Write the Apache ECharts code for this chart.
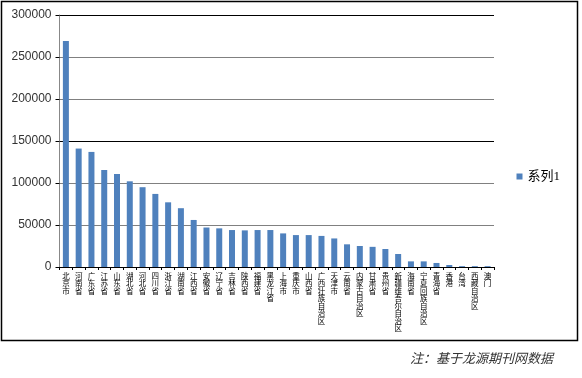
<!DOCTYPE html>
<html><head><meta charset="utf-8">
<script src="https://cdn.jsdelivr.net/npm/echarts@6/dist/echarts.min.js"></script>
<style>html,body{margin:0;padding:0;background:#fff}#c{width:582px;height:378px}</style>
</head><body><div id="c"></div>
<script>
const categories = ['北京市','河南省','广东省','江苏省','山东省','湖北省','河北省','四川省','浙江省','湖南省','江西省','安徽省','辽宁省','吉林省','陕西省','福建省','黑龙江省','上海市','重庆市','山西省','广西壮族自治区','天津市','云南省','内蒙古自治区','甘肃省','贵州省','新疆维吾尔自治区','海南省','宁夏回族自治区','青海省','香港','台湾','西藏自治区','澳门'];
const values = [269000,141000,137000,115500,110700,102000,95000,87000,77000,70000,56000,47000,46000,44000,43600,44000,44000,40000,38000,38000,37000,34000,27000,25000,24000,21400,15500,6700,6700,4800,2400,1000,1000,1000];
const seriesName = '系列1';
const yTicks = [0,50000,100000,150000,200000,250000,300000];
const note = '注：基于龙源期刊网数据';

const chart = echarts.init(document.getElementById('c'));
chart.setOption({
  animation:false,
  grid:{left:59.5,right:88,top:15,bottom:111,containLabel:false},
  legend:{data:[seriesName],right:17,top:165,orient:'vertical',itemWidth:6,itemHeight:6,itemGap:4,icon:'rect',
    textStyle:{fontFamily:'"Liberation Serif","Noto Sans CJK SC",serif',fontSize:13,color:'#000'}},
  xAxis:{type:'category',data:categories,
    axisLine:{lineStyle:{color:'#000',width:1}},
    axisTick:{show:true,length:3,lineStyle:{color:'#000'}},
    axisLabel:{interval:0,margin:5,fontSize:7.5,lineHeight:7.5,color:'#000',fontFamily:'"Noto Sans CJK SC",sans-serif',verticalAlign:'top',
      formatter:v=>v.split('').join('\n')}},
  yAxis:{type:'value',min:0,max:300000,interval:50000,
    axisLine:{show:true,lineStyle:{color:'#888'}},
    axisTick:{show:true,length:4,lineStyle:{color:'#000'}},
    axisLabel:{fontSize:12,color:'#333',margin:8,fontFamily:'"Liberation Sans",Arial,sans-serif',
      formatter:v=>String(v)},
    splitLine:{lineStyle:{color:['#000','#808080','#808080'],width:1}}},
  series:[{name:seriesName,type:'bar',data:values,barWidth:6,
    itemStyle:{color:'#4f81bd'}}],
  graphic:[
    {type:'rect',shape:{x:1.5,y:1.5,width:576,height:339},style:{fill:'none',stroke:'#000',lineWidth:1.5},z:-1},
    {type:'text',right:29,top:352,style:{text:note,font:'italic 13px "Noto Sans CJK SC", sans-serif',fill:'#333'}}
  ]
});
</script></body></html>
